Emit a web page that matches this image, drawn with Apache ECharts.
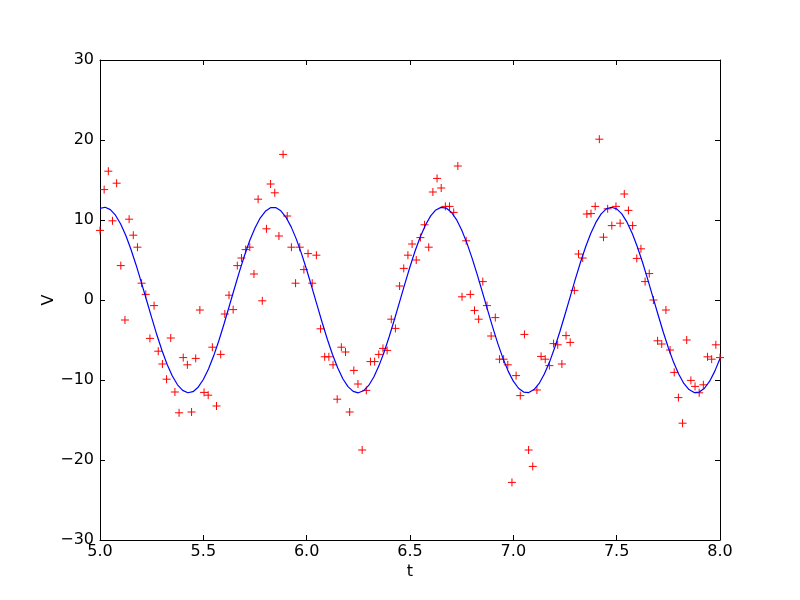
<!DOCTYPE html>
<html>
<head>
<meta charset="utf-8">
<script src="https://cdn.jsdelivr.net/npm/echarts@6/dist/echarts.min.js"></script>
<style>
html,body{margin:0;padding:0;background:#fff;}
#chart{width:800px;height:600px;}
</style>
</head>
<body>
<div id="chart"></div>
<script>
// measured sample times (t)
const tData = [5.0000,5.0201,5.0403,5.0604,5.0805,5.1007,5.1208,5.1409,5.1611,5.1812,
5.2013,5.2215,5.2416,5.2617,5.2819,5.3020,5.3221,5.3423,5.3624,5.3826,
5.4027,5.4228,5.4430,5.4631,5.4832,5.5034,5.5235,5.5436,5.5638,5.5839,
5.6040,5.6242,5.6443,5.6644,5.6846,5.7047,5.7248,5.7450,5.7651,5.7852,
5.8054,5.8255,5.8456,5.8658,5.8859,5.9060,5.9262,5.9463,5.9664,5.9866,
6.0067,6.0268,6.0470,6.0671,6.0872,6.1074,6.1275,6.1477,6.1678,6.1879,
6.2081,6.2282,6.2483,6.2685,6.2886,6.3087,6.3289,6.3490,6.3691,6.3893,
6.4094,6.4295,6.4497,6.4698,6.4899,6.5101,6.5302,6.5503,6.5705,6.5906,
6.6107,6.6309,6.6510,6.6711,6.6913,6.7114,6.7315,6.7517,6.7718,6.7919,
6.8121,6.8322,6.8523,6.8725,6.8926,6.9128,6.9329,6.9530,6.9732,6.9933,
7.0134,7.0336,7.0537,7.0738,7.0940,7.1141,7.1342,7.1544,7.1745,7.1946,
7.2148,7.2349,7.2550,7.2752,7.2953,7.3154,7.3356,7.3557,7.3758,7.3960,
7.4161,7.4362,7.4564,7.4765,7.4966,7.5168,7.5369,7.5570,7.5772,7.5973,
7.6174,7.6376,7.6577,7.6779,7.6980,7.7181,7.7383,7.7584,7.7785,7.7987,
7.8188,7.8389,7.8591,7.8792,7.8993,7.9195,7.9396,7.9597,7.9799,8.0000];

// measured values (V)
const vData = [8.7,13.8,16.1,9.9,14.6,4.3,-2.5,10.1,8.1,6.6,
2.1,0.7,-4.8,-0.7,-6.4,-8.0,-9.9,-4.75,-11.5,-14.1,
-7.2,-8.1,-14.0,-7.3,-1.25,-11.55,-11.9,-5.9,-13.25,-6.8,
-1.75,0.6,-1.2,4.3,5.25,6.3,6.6,3.25,12.6,-0.1,
8.9,14.5,13.4,8.0,18.2,10.5,6.6,2.1,6.6,3.8,
5.8,2.1,5.6,-3.6,-7.1,-7.1,-8.1,-12.4,-5.9,-6.5,
-14.0,-8.8,-10.5,-18.75,-11.3,-7.7,-7.7,-6.8,-6.05,-6.3,
-2.4,-3.55,1.75,3.95,5.6,7.0,5.0,7.8,9.4,6.6,
13.5,15.2,14.0,11.7,11.7,10.95,16.75,0.4,7.4,0.7,
-1.3,-2.4,2.3,-0.7,-4.5,-2.2,-7.4,-7.4,-8.1,-22.8,
-9.45,-11.95,-4.3,-18.75,-20.8,-11.25,-7.05,-7.4,-8.2,-5.45,
-5.6,-8.0,-4.45,-5.3,1.2,5.75,5.25,10.75,10.8,11.7,
20.1,7.85,11.4,9.3,11.7,9.6,13.25,11.2,9.3,5.2,
6.4,2.3,3.3,0.0,-5.1,-5.5,-1.25,-6.25,-9.05,-12.2,
-15.4,-5.0,-10.05,-10.8,-11.6,-10.6,-7.1,-7.4,-5.6,-7.2];

// fitted curve
const tFit = [5.000,5.025,5.050,5.075,5.100,5.125,5.150,5.175,5.200,5.225,
5.250,5.275,5.300,5.325,5.350,5.375,5.400,5.425,5.450,5.475,
5.500,5.525,5.550,5.575,5.600,5.625,5.650,5.675,5.700,5.725,
5.750,5.775,5.800,5.825,5.850,5.875,5.900,5.925,5.950,5.975,
6.000,6.025,6.050,6.075,6.100,6.125,6.150,6.175,6.200,6.225,
6.250,6.275,6.300,6.325,6.350,6.375,6.400,6.425,6.450,6.475,
6.500,6.525,6.550,6.575,6.600,6.625,6.650,6.675,6.700,6.725,
6.750,6.775,6.800,6.825,6.850,6.875,6.900,6.925,6.950,6.975,
7.000,7.025,7.050,7.075,7.100,7.125,7.150,7.175,7.200,7.225,
7.250,7.275,7.300,7.325,7.350,7.375,7.400,7.425,7.450,7.475,
7.500,7.525,7.550,7.575,7.600,7.625,7.650,7.675,7.700,7.725,
7.750,7.775,7.800,7.825,7.850,7.875,7.900,7.925,7.950,7.975,8.000];
const vFit = [11.46,11.59,11.30,10.60,9.50,8.06,6.32,4.35,2.21,0.00,
-2.21,-4.35,-6.32,-8.06,-9.50,-10.60,-11.30,-11.59,-11.46,-10.90,
-9.94,-8.62,-6.98,-5.09,-3.00,-0.81,1.41,3.58,5.62,7.46,
9.01,10.24,11.09,11.54,11.56,11.15,10.34,9.14,7.61,5.80,
3.78,1.61,-0.61,-2.81,-4.90,-6.82,-8.48,-9.84,-10.83,-11.42,
-11.60,-11.35,-10.68,-9.62,-8.20,-6.49,-4.53,-2.41,-0.20,2.01,
4.16,6.15,7.91,9.38,10.51,11.26,11.58,11.49,10.97,10.05,
8.75,7.14,5.27,3.20,1.01,-1.21,-3.39,-5.45,-7.30,-8.89,
-10.15,-11.03,-11.51,-11.57,-11.20,-10.43,-9.26,-7.76,-5.97,-3.97,
-1.81,0.40,2.61,4.72,6.65,8.34,9.73,10.76,11.39,11.60,
11.39,10.76,9.73,8.34,6.65,4.72,2.61,0.40,-1.81,-3.97,
-5.97,-7.76,-9.26,-10.43,-11.20,-11.57,-11.51,-11.03,-10.15,-8.89,-7.30];

const xTicks = [5.0, 8.0, 0.5];   // min, max, interval
const yTicks = [-30, 30, 10];

const FONT = 'DejaVu Sans';
const FS = 16;
const minus = v => String(v).replace('-', '\u2212');

const chart = echarts.init(document.getElementById('chart'), null, {renderer: 'canvas'});

const axisCommon = {
  axisLine: {show: true, onZero: false, lineStyle: {color: '#000', width: 1}},
  axisTick: {show: true, inside: true, length: 5, lineStyle: {color: '#000', width: 1}},
  splitLine: {show: false}
};

const scatterData = tData.map((t, i) => [t, vData[i]]);
const fitData = tFit.map((t, i) => [t, vFit[i]]);

chart.setOption({
  animation: false,
  backgroundColor: '#fff',
  grid: {left: 100, top: 60, width: 620, height: 480, containLabel: false},
  xAxis: [
    Object.assign({}, axisCommon, {
      type: 'value', position: 'bottom', min: xTicks[0], max: xTicks[1], interval: xTicks[2],
      name: 't', nameLocation: 'middle', nameGap: 24, nameMoveOverlap: false,
      nameTextStyle: {fontFamily: FONT, fontSize: FS, color: '#000'},
      axisLabel: {show: true, margin: 4, fontFamily: FONT, fontSize: FS, color: '#000',
        formatter: v => v.toFixed(1)}
    }),
    Object.assign({}, axisCommon, {
      type: 'value', position: 'top', min: xTicks[0], max: xTicks[1], interval: xTicks[2],
      axisLabel: {show: false}
    })
  ],
  yAxis: [
    Object.assign({}, axisCommon, {
      type: 'value', position: 'left', min: yTicks[0], max: yTicks[1], interval: yTicks[2],
      name: 'V', nameLocation: 'middle', nameGap: 43, nameRotate: 90, nameMoveOverlap: false,
      nameTextStyle: {fontFamily: FONT, fontSize: FS, color: '#000'},
      axisLabel: {show: true, margin: 6, fontFamily: FONT, fontSize: FS, color: '#000',
        formatter: minus}
    }),
    Object.assign({}, axisCommon, {
      type: 'value', position: 'right', min: yTicks[0], max: yTicks[1], interval: yTicks[2],
      axisLabel: {show: false}
    })
  ],
  series: [
    {
      type: 'scatter',
      data: scatterData,
      symbol: 'path://M0,5L10,5M5,0L5,10',
      symbolSize: 8,
      itemStyle: {color: 'none', borderColor: '#ff0000', borderWidth: 1, opacity: 1},
      emphasis: {disabled: true},
      z: 2
    },
    {
      type: 'line',
      data: fitData,
      showSymbol: false,
      symbol: 'none',
      smooth: false,
      lineStyle: {color: '#0000ff', width: 1.2},
      emphasis: {disabled: true},
      z: 3
    }
  ]
});
</script>
</body>
</html>
